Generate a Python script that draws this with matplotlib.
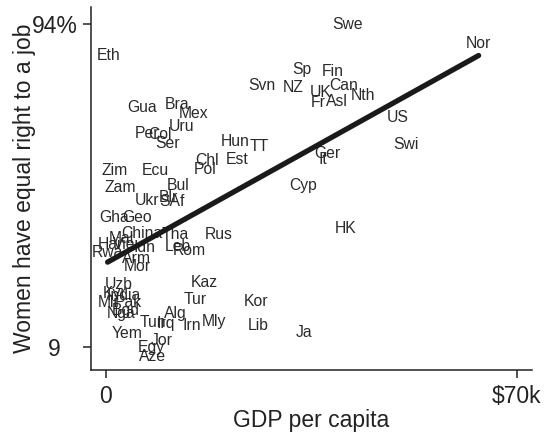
import matplotlib
matplotlib.use("Agg")
import matplotlib.pyplot as plt
import numpy as np

plt.rcParams['font.family'] = ['Liberation Sans', 'DejaVu Sans']

countries = ["Swe", "Nor", "Eth", "Sp", "Fin", "Svn", "NZ", "UK", "Can", "Nth",
             "Fr", "Asl", "US", "Swi", "Hun", "TT", "Ger", "It", "Cyp", "Est",
             "Chl", "Pol", "Gua", "Bra", "Mex", "Uru", "Per", "Col", "Ser", "Zim",
             "Ecu", "Zam", "Bul", "Ukr", "Blr", "SAf", "Gha", "Geo", "China", "Tha",
             "Rus", "HK", "Mal", "Vie", "Hai", "Rwa", "Idn", "Leb", "Rom", "Arm",
             "Mor", "Uzb", "Kyr", "India", "Mli", "Pak", "Nga", "Bgd", "Tun", "Irq",
             "Alg", "Irn", "Mly", "Tur", "Kaz", "Kor", "Lib", "Ja", "Yem", "Jor",
             "Egy", "Aze"]
gdp_k = [41.1, 63.5, 0.5, 33.4, 38.7, 26.6, 32.0, 36.6, 40.5, 43.8,
         36.1, 39.4, 49.7, 51.1, 22.0, 26.2, 37.8, 37.0, 33.6, 22.3,
         17.2, 16.9, 6.1, 12.1, 15.0, 12.9, 7.0, 9.2, 10.6, 1.5,
         8.5, 2.4, 12.4, 7.0, 10.7, 11.2, 1.5, 5.3, 6.1, 11.8,
         19.3, 40.9, 2.7, 3.1, 0.6, 0.3, 6.6, 12.3, 14.3, 5.3,
         5.3, 2.2, 1.5, 3.1, 0.4, 3.9, 2.6, 3.4, 8.0, 10.2,
         11.9, 14.7, 18.4, 15.2, 16.7, 25.6, 25.9, 33.7, 3.7, 9.5,
         7.8, 8.0]
equal_pct = [94.0, 89.0, 85.8, 82.2, 81.6, 78.0, 77.4, 76.1, 78.0, 75.3,
             73.5, 73.7, 69.5, 62.4, 63.2, 61.9, 60.1, 58.5, 51.6, 58.5,
             58.0, 55.8, 72.2, 73.0, 70.6, 67.2, 65.3, 65.1, 62.7, 55.6,
             55.6, 51.1, 51.6, 47.7, 48.5, 47.2, 43.2, 43.2, 39.0, 38.7,
             38.7, 40.1, 37.7, 36.1, 36.1, 34.0, 35.1, 35.6, 34.5, 32.4,
             30.3, 25.6, 23.0, 22.7, 20.8, 20.8, 17.9, 18.5, 15.6, 15.3,
             17.9, 14.8, 15.8, 21.4, 26.1, 21.1, 14.8, 12.9, 12.7, 10.8,
             9.0, 6.6]

fit_intercept = 31.1
fit_slope = 0.861

x_ticks = [0, 70]
x_ticklabels = ["0", "$70k"]
y_ticks = [9, 94]
y_ticklabels = ["9", "94%"]

fig = plt.figure(figsize=(5.44, 4.48), dpi=100)
ax = fig.add_axes([0.167, 0.174, 0.811, 0.810])

for name, x, y in zip(countries, gdp_k, equal_pct):
    ax.text(x, y, name, ha='center', va='center', fontsize=11.3, color='#2a2a2a')

gx = np.array([min(gdp_k), max(gdp_k)])
ax.plot(gx, fit_intercept + fit_slope * gx, color='#1a1a1a', lw=3.8,
        solid_capstyle='round', zorder=3)

ax.set_xlim(-2.55, 72.6)
ax.set_ylim(2.95, 98.5)

ax.set_xticks(x_ticks)
ax.set_xticklabels(x_ticklabels)
ax.set_yticks(y_ticks)
ax.set_yticklabels(y_ticklabels)

for s in ['top', 'right']:
    ax.spines[s].set_visible(False)
for s in ['left', 'bottom']:
    ax.spines[s].set_linewidth(1.1)
    ax.spines[s].set_color('#222222')

ax.tick_params(axis='x', length=6, width=1.1, color='#222222', labelcolor='#222222',
               labelsize=16.5, pad=5)
ax.tick_params(axis='y', length=6, width=1.1, color='#222222', labelcolor='#222222',
               labelsize=16.5, pad=20)
for lab in ax.get_yticklabels():
    lab.set_horizontalalignment('center')

ax.set_xlabel("GDP per capita", fontsize=16.5, color='#222222')
ax.set_ylabel("Women have equal right to a job", fontsize=16.5, color='#222222')
ax.xaxis.set_label_coords(0.5, -0.140)
ax.xaxis.label.set_va('center')
ax.yaxis.set_label_coords(-0.150, 0.5)
ax.yaxis.label.set_va('center')

fig.savefig("out.png", dpi=100)
